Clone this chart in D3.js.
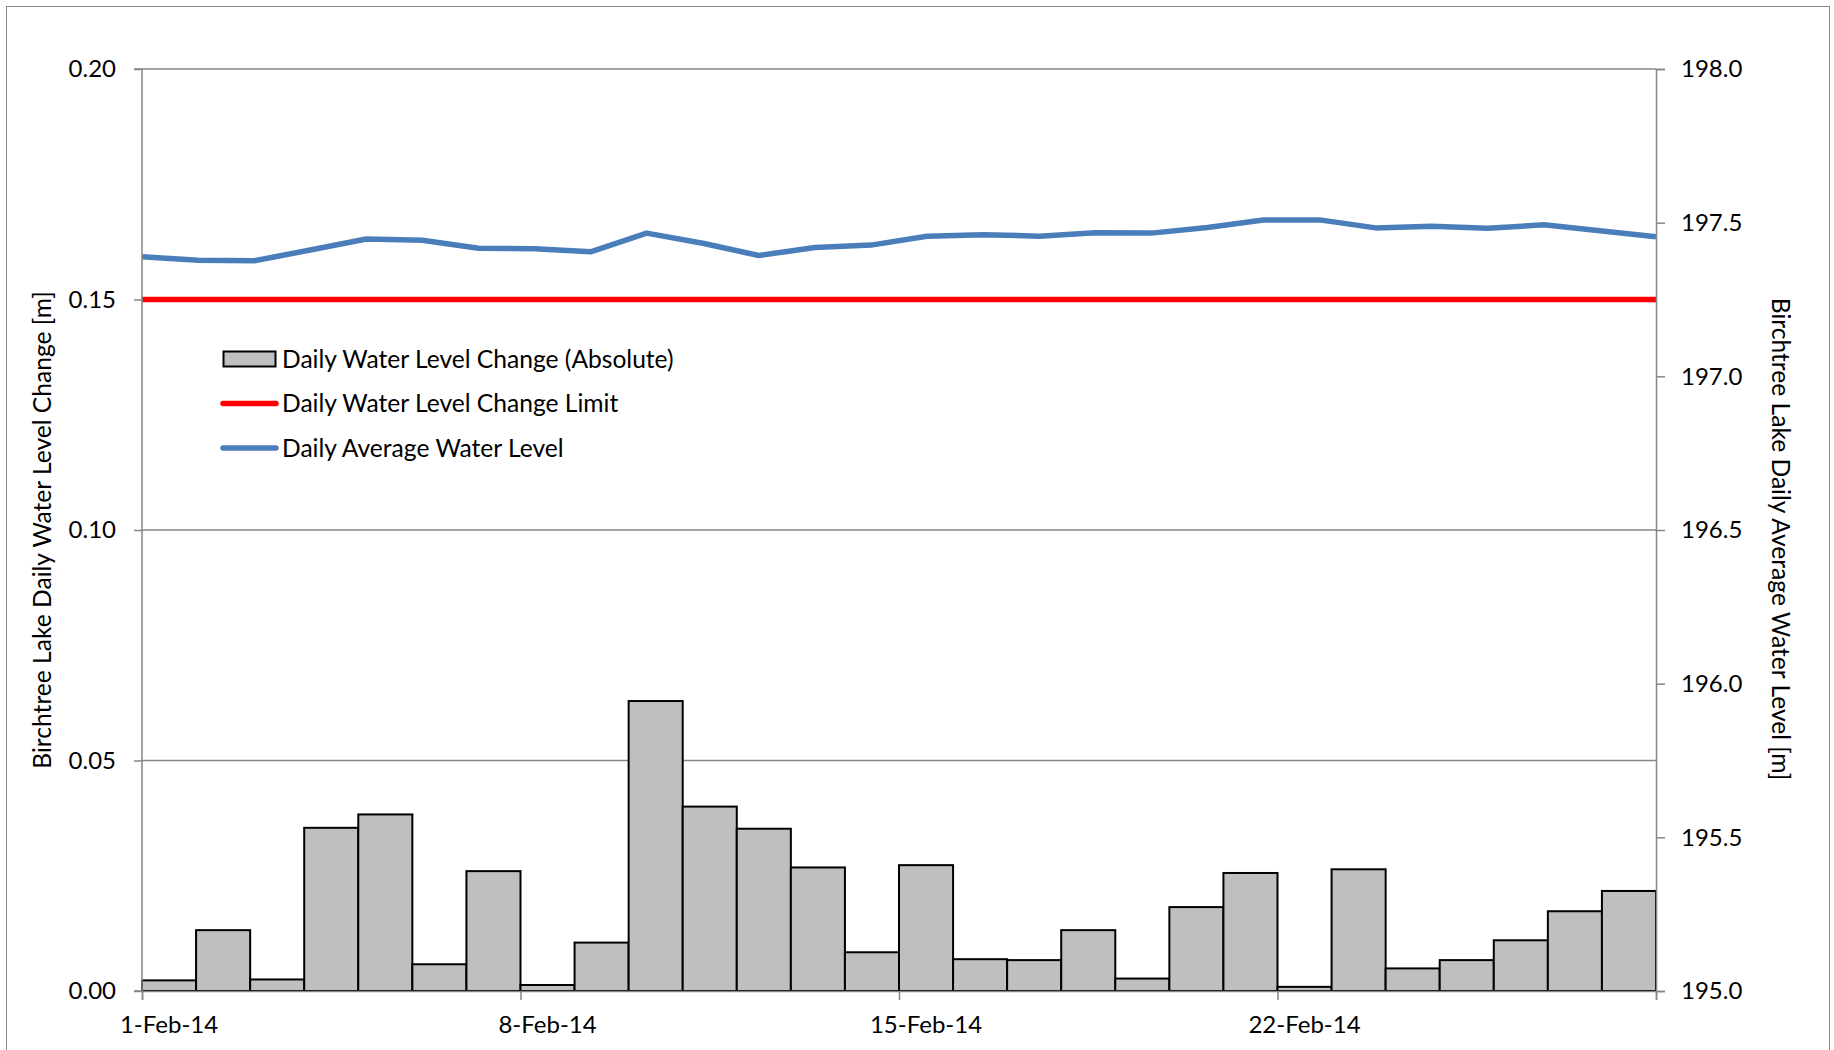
<!DOCTYPE html>
<html>
<head>
<meta charset="utf-8">
<script src="https://cdn.jsdelivr.net/npm/d3@7"></script>
<style>
  body { margin: 0; background: #fff; }
  svg text { font-family: Lato, "Open Sans", sans-serif; font-size: 24px; fill: #000; }
  svg text.big { font-size: 24.6px; }
</style>
</head>
<body>
<svg id="chart" width="1834" height="1050"></svg>
<script>
const width = 1834, height = 1050;

// data
const dates = ["2014-02-01","2014-02-02","2014-02-03","2014-02-04","2014-02-05","2014-02-06","2014-02-07",
               "2014-02-08","2014-02-09","2014-02-10","2014-02-11","2014-02-12","2014-02-13","2014-02-14",
               "2014-02-15","2014-02-16","2014-02-17","2014-02-18","2014-02-19","2014-02-20","2014-02-21",
               "2014-02-22","2014-02-23","2014-02-24","2014-02-25","2014-02-26","2014-02-27","2014-02-28"];
const dailyChange = [0.0023, 0.0132, 0.0025, 0.0354, 0.0383, 0.0058, 0.0260,
                     0.0013, 0.0105, 0.0629, 0.0400, 0.0352, 0.0268, 0.0084,
                     0.0273, 0.0069, 0.0067, 0.0132, 0.0027, 0.0182, 0.0256,
                     0.0009, 0.0264, 0.0049, 0.0067, 0.0110, 0.0173, 0.0217];
const avgLevel = [197.389, 197.378, 197.376, 197.411, 197.447, 197.443, 197.417,
                  197.415, 197.405, 197.466, 197.433, 197.393, 197.419, 197.427,
                  197.456, 197.461, 197.456, 197.467, 197.466, 197.484, 197.509,
                  197.509, 197.483, 197.488, 197.482, 197.493, 197.474, 197.454];
const changeLimit = 0.15;
const leftTicks = [0, 0.05, 0.10, 0.15, 0.20];
const rightTicks = [195.0, 195.5, 196.0, 196.5, 197.0, 197.5, 198.0];
const xTickDates = ["2014-02-01", "2014-02-08", "2014-02-15", "2014-02-22", "2014-03-01"];
const xLabelDates = ["2014-02-01", "2014-02-08", "2014-02-15", "2014-02-22"];
const legendItems = ["Daily Water Level Change (Absolute)", "Daily Water Level Change Limit", "Daily Average Water Level"];

const parse = d3.utcParse("%Y-%m-%d");
const fmt = d3.utcFormat("%-d-%b-%y");
const days = dates.map(parse);

const m = { left: 142, right: 1656, top: 69, bottom: 991 };
const axisGrey = "#868686";

const svg = d3.select("#chart");

// chart border
svg.append("rect")
    .attr("x", 6.5).attr("y", 6.5)
    .attr("width", 1823).attr("height", 1100)
    .attr("fill", "none").attr("stroke", axisGrey).attr("stroke-width", 1);

const x = d3.scaleUtc()
    .domain([parse("2014-02-01"), parse("2014-03-01")])
    .range([m.left, m.right]);

const xLine = d3.scalePoint()
    .domain(dates)
    .range([m.left, m.right]);

const yL = d3.scaleLinear().domain([0, 0.2]).range([m.bottom, m.top]);
const yR = d3.scaleLinear().domain([195, 198]).range([m.bottom, m.top]);

// gridlines
svg.append("g")
    .selectAll("line")
    .data(leftTicks.slice(1))
    .join("line")
    .attr("x1", m.left).attr("x2", m.right)
    .attr("y1", d => yL(d)).attr("y2", d => yL(d))
    .attr("stroke", axisGrey).attr("stroke-width", 1.5);

// bars
svg.append("g")
    .selectAll("rect")
    .data(dailyChange)
    .join("rect")
    .attr("x", (d, i) => x(days[i]))
    .attr("width", (d, i) => x(d3.utcDay.offset(days[i], 1)) - x(days[i]))
    .attr("y", d => yL(d))
    .attr("height", d => yL(0) - yL(d))
    .attr("fill", "#bfbfbf")
    .attr("stroke", "#000")
    .attr("stroke-width", 2);

// limit line
svg.append("line")
    .attr("x1", m.left).attr("x2", m.right)
    .attr("y1", yL(changeLimit)).attr("y2", yL(changeLimit))
    .attr("stroke", "#ff0000").attr("stroke-width", 5.5);

// average level line
const line = d3.line()
    .x((d, i) => xLine(dates[i]))
    .y(d => yR(d));

svg.append("path")
    .datum(avgLevel)
    .attr("d", line)
    .attr("fill", "none")
    .attr("stroke", "#4a7ebb")
    .attr("stroke-width", 5.5)
    .attr("stroke-linejoin", "round");

// axes
const leftAxis = d3.axisLeft(yL).tickValues(leftTicks).tickFormat(d3.format(".2f")).tickSize(8).tickPadding(18);
const gl = svg.append("g").attr("transform", `translate(${m.left},0)`).call(leftAxis);

const rightAxis = d3.axisRight(yR).tickValues(rightTicks).tickFormat(d3.format(".1f")).tickSize(9).tickPadding(16);
const gr = svg.append("g").attr("transform", `translate(${m.right},0)`).call(rightAxis);

const bottomAxis = d3.axisBottom(x).tickValues(xTickDates.map(parse)).tickFormat("").tickSize(9);
const gb = svg.append("g").attr("transform", `translate(0,${m.bottom})`).call(bottomAxis);

[gl, gr, gb].forEach(g => {
    g.selectAll(".domain").attr("stroke", axisGrey).attr("stroke-width", 1.5);
    g.selectAll(".tick line").attr("stroke", axisGrey).attr("stroke-width", 1.5);
    g.selectAll("text").attr("font-family", null).attr("font-size", null);
});
gl.select(".domain").attr("d", `M-8,${m.bottom}H0V${m.top}H-8`);

// x labels centred on the day's bar
svg.append("g")
    .selectAll("text")
    .data(xLabelDates.map(parse))
    .join("text")
    .attr("x", d => (x(d) + x(d3.utcDay.offset(d, 1))) / 2)
    .attr("y", 1033)
    .attr("text-anchor", "middle")
    .text(d => fmt(d));

// axis titles
svg.append("text")
    .attr("class", "big")
    .attr("transform", `translate(51,${(m.top + m.bottom) / 2}) rotate(-90)`)
    .attr("text-anchor", "middle")
    .text("Birchtree Lake Daily Water Level Change [m]");

svg.append("text")
    .attr("class", "big")
    .attr("transform", `translate(1772,${(m.top + m.bottom) / 2 + 9}) rotate(90)`)
    .attr("text-anchor", "middle")
    .text("Birchtree Lake Daily Average Water Level [m]");

// legend
const lg = svg.append("g").attr("transform", "translate(223,359)");
const rowH = 44.5;
lg.append("rect")
    .attr("x", 0.5).attr("y", -7.5).attr("width", 52).attr("height", 15)
    .attr("fill", "#bfbfbf").attr("stroke", "#000").attr("stroke-width", 2);
lg.append("line")
    .attr("x1", 0).attr("x2", 53).attr("y1", rowH).attr("y2", rowH)
    .attr("stroke", "#ff0000").attr("stroke-width", 5.5).attr("stroke-linecap", "round");
lg.append("line")
    .attr("x1", 0).attr("x2", 53).attr("y1", rowH * 2).attr("y2", rowH * 2)
    .attr("stroke", "#4a7ebb").attr("stroke-width", 5.5).attr("stroke-linecap", "round");
lg.selectAll("text.leg")
    .data(legendItems)
    .join("text")
    .attr("class", "leg big")
    .attr("x", 59)
    .attr("y", (d, i) => i * rowH)
    .attr("dy", "0.35em")
    .text(d => d);
</script>
</body>
</html>
